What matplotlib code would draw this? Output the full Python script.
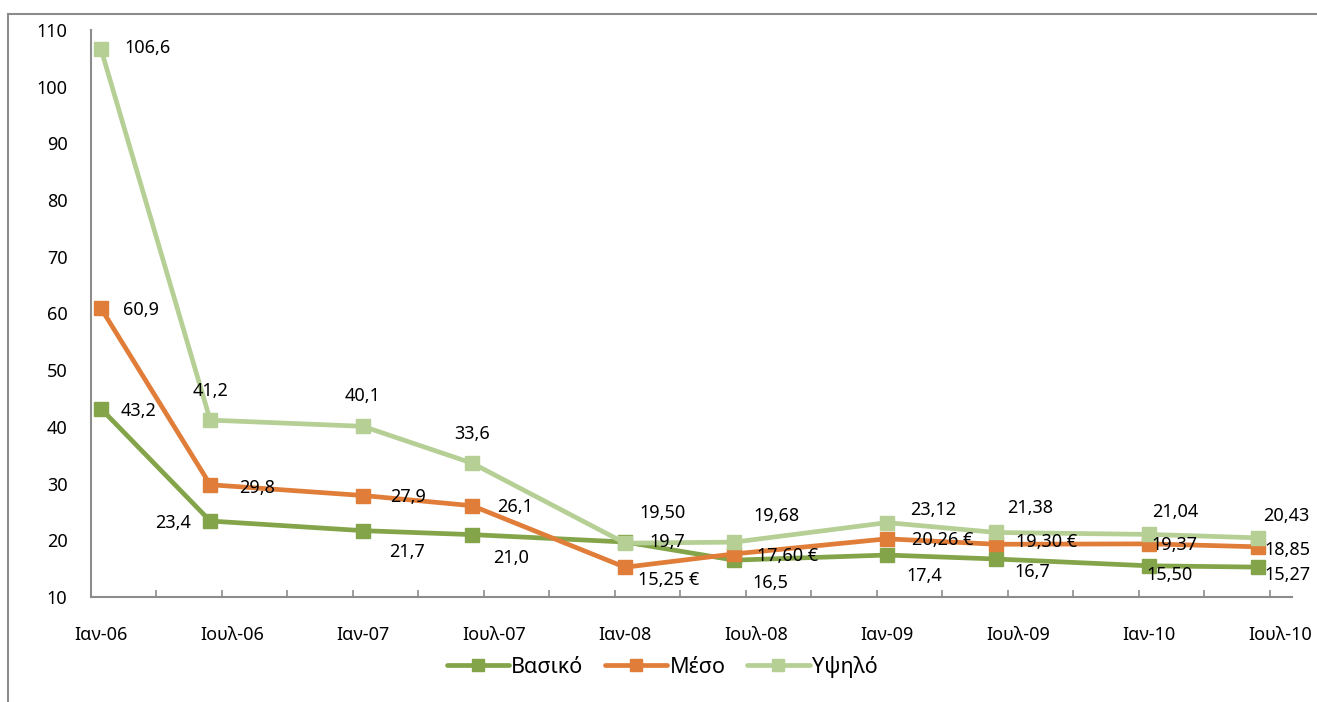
import matplotlib
matplotlib.use("Agg")
import matplotlib.pyplot as plt
from matplotlib.patches import Rectangle

# months since Jan 2006 (data at Jan and Jun of each year)
months = [0, 5, 12, 17, 24, 29, 36, 41, 48, 53]
tick_labels = ["Ιαν-06", "Ιουλ-06", "Ιαν-07", "Ιουλ-07", "Ιαν-08",
               "Ιουλ-08", "Ιαν-09", "Ιουλ-09", "Ιαν-10", "Ιουλ-10"]

vasiko = [43.2, 23.4, 21.7, 21.0, 19.7, 16.5, 17.4, 16.7, 15.50, 15.27]
meso = [60.9, 29.8, 27.9, 26.1, 15.25, 17.60, 20.26, 19.30, 19.37, 18.85]
ypsilo = [106.6, 41.2, 40.1, 33.6, 19.50, 19.68, 23.12, 21.38, 21.04, 20.43]

vasiko_txt = ["43,2", "23,4", "21,7", "21,0", "19,7", "16,5", "17,4", "16,7", "15,50", "15,27"]
meso_txt = ["60,9", "29,8", "27,9", "26,1", "15,25 €", "17,60 €", "20,26 €", "19,30 €", "19,37", "18,85"]
ypsilo_txt = ["106,6", "41,2", "40,1", "33,6", "19,50", "19,68", "23,12", "21,38", "21,04", "20,43"]

# label centre offsets in pixels (dx, dy), dy up positive
vasiko_off = [(38, -2), (-37, -2), (44, -21), (39, -23), (42, 0), (36, -23), (37, -21), (36, -13), (21, -9), (29, -8)]
meso_off = [(40, -2), (47, -3), (45, -1), (43, -1), (44, -13), (53, -2), (56, -1), (50, 2), (25, -1), (29, -3)]
ypsilo_off = [(46, 1), (0, 29), (0, 30), (0, 29), (38, 30), (42, 26), (46, 13), (34, 24), (26, 22), (28, 22)]

plt.rcParams["font.family"] = ["Noto Sans", "DejaVu Sans"]

fig = plt.figure(figsize=(13.17, 7.02), dpi=100)
ax = fig.add_axes([91 / 1317, 1 - 597 / 702, (1292 - 91) / 1317, (597 - 30) / 702])

fig.patches.append(Rectangle((8 / 1317, -0.01), 1.2, 1 - 14 / 702 + 0.01,
                             transform=fig.transFigure, fill=False,
                             edgecolor="#8c8c8c", linewidth=1.5))

series = [
    ("Βασικό", vasiko, vasiko_txt, vasiko_off, "#83a449"),
    ("Μέσο", meso, meso_txt, meso_off, "#e07d39"),
    ("Υψηλό", ypsilo, ypsilo_txt, ypsilo_off, "#b5cf95"),
]
for name, vals, txts, offs, col in series:
    ax.plot(months, vals, color=col, linewidth=3.4, marker="s", markersize=10.5,
            label=name, solid_capstyle="round")
for name, vals, txts, offs, col in series:
    for x, y, t, (dx, dy) in zip(months, vals, txts, offs):
        ax.annotate(t, (x, y), xytext=(dx, dy), textcoords="offset pixels",
                    ha="center", va="center", fontsize=13, color="black")

ax.set_xlim(-0.46, 54.55)
ax.set_ylim(10, 110)
ax.set_yticks(range(10, 111, 10))
ax.tick_params(axis="y", length=0, labelsize=13, pad=17)

ax.set_xticks([-0.46 + 3 * k for k in range(19)])
ax.set_xticklabels([])
ax.tick_params(axis="x", length=5, width=1.2, color="#8c8c8c", direction="in")
ax.set_xticks(list(range(0, 55, 6)), minor=True)
ax.set_xticklabels(tick_labels, minor=True, fontsize=13)
ax.tick_params(axis="x", which="minor", length=0, pad=21)

for s in ["top", "right"]:
    ax.spines[s].set_visible(False)
for s in ["left", "bottom"]:
    ax.spines[s].set_color("#8c8c8c")
    ax.spines[s].set_linewidth(1.5)

ax.legend(loc="center", bbox_to_anchor=(662 / 1317, 1 - 667 / 702),
          bbox_transform=fig.transFigure, ncol=3, frameon=False,
          fontsize=15.5, handlelength=2.9, handletextpad=0.1, columnspacing=1.0,
          markerscale=0.8)

fig.savefig("out.png", dpi=100)
